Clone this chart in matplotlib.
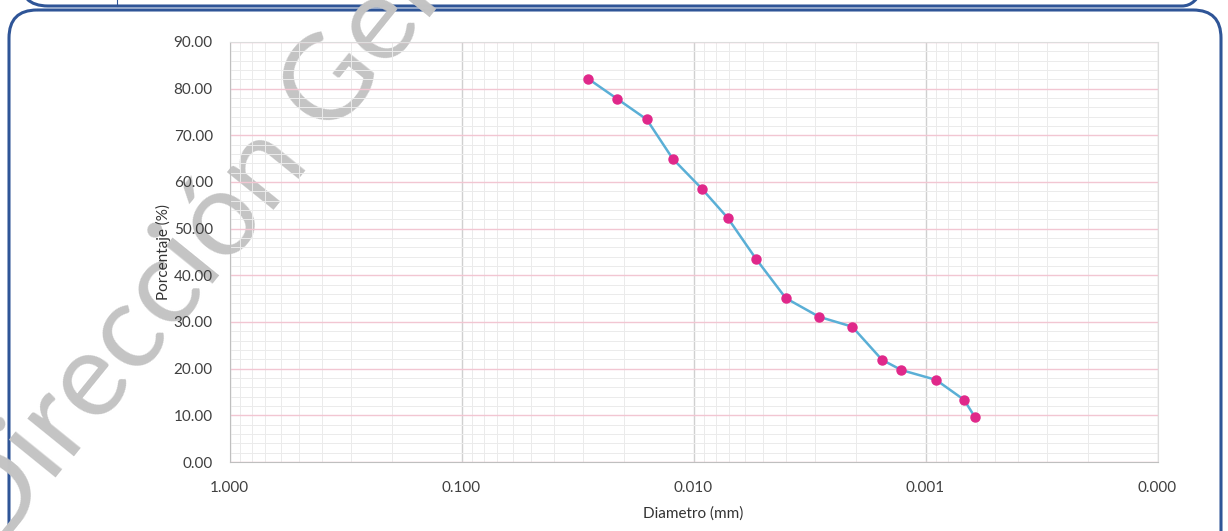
#!/usr/bin/env python
"""plot.py"""
import matplotlib
matplotlib.use('Agg')
import matplotlib.pyplot as plt
from matplotlib.patches import FancyBboxPatch
from matplotlib.ticker import LogLocator, FixedLocator, FuncFormatter, MultipleLocator

# data
diametro = [0.0284, 0.0213, 0.0159, 0.0123, 0.00922, 0.00712, 0.00539, 0.00400,
            0.00287, 0.00207, 0.00154, 0.00127, 0.000901, 0.000681, 0.000614]
porcentaje = [82.1, 77.8, 73.4, 65.0, 58.6, 52.3, 43.6, 35.1,
              31.1, 29.0, 21.9, 19.7, 17.6, 13.3, 9.7]
x_ticks = [1.0, 0.1, 0.01, 0.001, 0.0001]

plt.rcParams['font.family'] = ['Lato', 'DejaVu Sans']

W, H = 1228, 531
fig = plt.figure(figsize=(W / 100, H / 100), dpi=100)

# background layer in pixel coordinates: frame boxes and watermark
bg = fig.add_axes([0, 0, 1, 1], zorder=-1)
bg.set_xlim(0, W)
bg.set_ylim(H, 0)
bg.axis('off')
blue = '#2F5597'
bg.add_patch(FancyBboxPatch((9, 10), 1212, 560, boxstyle='round,pad=0,rounding_size=28',
                            fill=False, ec=blue, lw=2.2))
bg.add_patch(FancyBboxPatch((20, -100), 1190, 106, boxstyle='round,pad=0,rounding_size=28',
                            fill=False, ec=blue, lw=2.2))
bg.plot([117, 117], [0, 6], color=blue, lw=0.8)
bg.text(-73, 568, 'Dirección General', fontsize=86, color='#C4C4C4',
        rotation=51, ha='left', va='bottom')

ax = fig.add_axes([229.5 / W, 1 - 462 / H, 928 / W, 420 / H])
ax.set_facecolor('none')
ax.set_xscale('log')
ax.set_xlim(1.0, 0.0001)
ax.set_ylim(0, 90)

ax.xaxis.set_major_locator(FixedLocator(x_ticks))
ax.xaxis.set_minor_locator(LogLocator(base=10, subs=range(2, 10)))
ax.xaxis.set_major_formatter(FuncFormatter(lambda v, p: '%.3f' % v))
ax.xaxis.set_minor_formatter(FuncFormatter(lambda v, p: ''))
ax.yaxis.set_major_locator(MultipleLocator(10))
ax.yaxis.set_minor_locator(MultipleLocator(2))
ax.yaxis.set_major_formatter(FuncFormatter(lambda v, p: '%.2f' % v))

ax.grid(True, axis='y', which='major', color='#F2C6D2', lw=1.0)
ax.grid(True, axis='y', which='minor', color='#EBEBEB', lw=0.7)
ax.grid(True, axis='x', which='major', color='#D0D0D0', lw=1.0)
ax.grid(True, axis='x', which='minor', color='#EBEBEB', lw=0.7)
ax.set_axisbelow(True)

for side in ['top', 'right']:
    ax.spines[side].set_color('#DDDDDD')
for side in ['left', 'bottom']:
    ax.spines[side].set_color('#BFBFBF')

ax.tick_params(which='both', length=0, labelsize=11, colors='#404040')
ax.tick_params(axis='x', pad=14)
ax.tick_params(axis='y', pad=12)

ax.plot(diametro, porcentaje, color='#5AAFD6', lw=1.8, marker='o',
        markersize=6.5, markerfacecolor='#E0288A', markeredgecolor='#E0288A', zorder=3)

ax.set_xlabel('Diametro (mm)', fontsize=11, color='#333333', labelpad=8)
ax.set_ylabel('Porcentaje (%)', fontsize=11, color='#333333', labelpad=2)

fig.savefig('out.png', dpi=100)
plt.close()
